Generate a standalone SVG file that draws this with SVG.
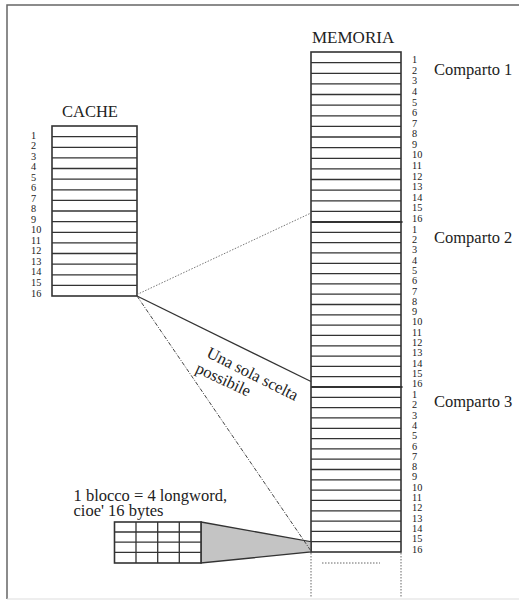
<svg xmlns="http://www.w3.org/2000/svg" width="520" height="602" viewBox="0 0 520 602">
<style>
text{font-family:"Liberation Serif","Times New Roman",serif;fill:#222}
.num{font-size:10.3px}
.lbl{font-size:16.5px}
.box{fill:#fff;stroke:#333;stroke-width:1.6}
.row{stroke:#333;stroke-width:1.3}
.sep{stroke:#333;stroke-width:2}
.frame{stroke:#666;stroke-width:1.5;fill:none}
</style>
<rect width="520" height="602" fill="#fff"/>
<g id="frame">
<path class="frame" d="M7,599 V5 H519"/>
<path d="M7,599 H519" stroke="#ddd" stroke-width="1"/>
</g>
<g id="cache">
<text class="lbl" x="62" y="117">CACHE</text>
<rect class="box" x="52" y="126" width="85" height="170"/>
<g class="row">
<line x1="52" y1="136.6" x2="137" y2="136.6"/><line x1="52" y1="147.3" x2="137" y2="147.3"/><line x1="52" y1="157.9" x2="137" y2="157.9"/><line x1="52" y1="168.5" x2="137" y2="168.5"/><line x1="52" y1="179.1" x2="137" y2="179.1"/><line x1="52" y1="189.8" x2="137" y2="189.8"/><line x1="52" y1="200.4" x2="137" y2="200.4"/><line x1="52" y1="211" x2="137" y2="211"/><line x1="52" y1="221.6" x2="137" y2="221.6"/><line x1="52" y1="232.3" x2="137" y2="232.3"/><line x1="52" y1="242.9" x2="137" y2="242.9"/><line x1="52" y1="253.5" x2="137" y2="253.5"/><line x1="52" y1="264.1" x2="137" y2="264.1"/><line x1="52" y1="274.8" x2="137" y2="274.8"/><line x1="52" y1="285.4" x2="137" y2="285.4"/>
</g>
<g class="num">
<text x="31" y="138.5">1</text><text x="31" y="149">2</text><text x="31" y="159.6">3</text><text x="31" y="170.1">4</text><text x="31" y="180.6">5</text><text x="31" y="191.2">6</text><text x="31" y="201.7">7</text><text x="31" y="212.2">8</text><text x="31" y="222.7">9</text><text x="31" y="233.3">10</text><text x="31" y="243.8">11</text><text x="31" y="254.3">12</text><text x="31" y="264.9">13</text><text x="31" y="275.4">14</text><text x="31" y="285.9">15</text><text x="31" y="296.5">16</text>
</g>
</g>
<g id="memoria">
<text class="lbl" x="312" y="43" style="font-size:17px">MEMORIA</text>
<rect class="box" x="311" y="52" width="90" height="500"/>
<g class="row">
<line x1="311" y1="62.6" x2="401" y2="62.6"/><line x1="311" y1="73.3" x2="401" y2="73.3"/><line x1="311" y1="83.9" x2="401" y2="83.9"/><line x1="311" y1="94.5" x2="401" y2="94.5"/><line x1="311" y1="105.1" x2="401" y2="105.1"/><line x1="311" y1="115.8" x2="401" y2="115.8"/><line x1="311" y1="126.4" x2="401" y2="126.4"/><line x1="311" y1="137" x2="401" y2="137"/><line x1="311" y1="147.6" x2="401" y2="147.6"/><line x1="311" y1="158.3" x2="401" y2="158.3"/><line x1="311" y1="168.9" x2="401" y2="168.9"/><line x1="311" y1="179.5" x2="401" y2="179.5"/><line x1="311" y1="190.1" x2="401" y2="190.1"/><line x1="311" y1="200.8" x2="401" y2="200.8"/><line x1="311" y1="211.4" x2="401" y2="211.4"/>
<line x1="311" y1="232.3" x2="401" y2="232.3"/><line x1="311" y1="242.6" x2="401" y2="242.6"/><line x1="311" y1="252.9" x2="401" y2="252.9"/><line x1="311" y1="263.3" x2="401" y2="263.3"/><line x1="311" y1="273.6" x2="401" y2="273.6"/><line x1="311" y1="283.9" x2="401" y2="283.9"/><line x1="311" y1="294.2" x2="401" y2="294.2"/><line x1="311" y1="304.5" x2="401" y2="304.5"/><line x1="311" y1="314.8" x2="401" y2="314.8"/><line x1="311" y1="325.1" x2="401" y2="325.1"/><line x1="311" y1="335.4" x2="401" y2="335.4"/><line x1="311" y1="345.8" x2="401" y2="345.8"/><line x1="311" y1="356.1" x2="401" y2="356.1"/><line x1="311" y1="366.4" x2="401" y2="366.4"/><line x1="311" y1="376.7" x2="401" y2="376.7"/>
<line x1="311" y1="397.3" x2="401" y2="397.3"/><line x1="311" y1="407.6" x2="401" y2="407.6"/><line x1="311" y1="417.9" x2="401" y2="417.9"/><line x1="311" y1="428.3" x2="401" y2="428.3"/><line x1="311" y1="438.6" x2="401" y2="438.6"/><line x1="311" y1="448.9" x2="401" y2="448.9"/><line x1="311" y1="459.2" x2="401" y2="459.2"/><line x1="311" y1="469.5" x2="401" y2="469.5"/><line x1="311" y1="479.8" x2="401" y2="479.8"/><line x1="311" y1="490.1" x2="401" y2="490.1"/><line x1="311" y1="500.4" x2="401" y2="500.4"/><line x1="311" y1="510.8" x2="401" y2="510.8"/><line x1="311" y1="521.1" x2="401" y2="521.1"/><line x1="311" y1="531.4" x2="401" y2="531.4"/><line x1="311" y1="541.7" x2="401" y2="541.7"/>
</g>
<line class="sep" x1="311" y1="222" x2="402.5" y2="222"/>
<line class="sep" x1="311" y1="387" x2="402.5" y2="387"/>
<g class="num">
<text x="412" y="63.3">1</text><text x="412" y="73.9">2</text><text x="412" y="84.4">3</text><text x="412" y="95">4</text><text x="412" y="105.5">5</text><text x="412" y="116.1">6</text><text x="412" y="126.7">7</text><text x="412" y="137.2">8</text><text x="412" y="147.8">9</text><text x="412" y="158.3">10</text><text x="412" y="168.9">11</text><text x="412" y="179.5">12</text><text x="412" y="190">13</text><text x="412" y="200.6">14</text><text x="412" y="211.1">15</text><text x="412" y="221.7">16</text>
<text x="412" y="232.7">1</text><text x="412" y="243">2</text><text x="412" y="253.3">3</text><text x="412" y="263.6">4</text><text x="412" y="273.9">5</text><text x="412" y="284.2">6</text><text x="412" y="294.5">7</text><text x="412" y="304.8">8</text><text x="412" y="315.1">9</text><text x="412" y="325.4">10</text><text x="412" y="335.7">11</text><text x="412" y="346">12</text><text x="412" y="356.3">13</text><text x="412" y="366.6">14</text><text x="412" y="376.9">15</text><text x="412" y="387.3">16</text>
<text x="412" y="398">1</text><text x="412" y="408.3">2</text><text x="412" y="418.6">3</text><text x="412" y="428.9">4</text><text x="412" y="439.2">5</text><text x="412" y="449.5">6</text><text x="412" y="459.8">7</text><text x="412" y="470.1">8</text><text x="412" y="480.4">9</text><text x="412" y="490.7">10</text><text x="412" y="501">11</text><text x="412" y="511.3">12</text><text x="412" y="521.6">13</text><text x="412" y="531.9">14</text><text x="412" y="542.2">15</text><text x="412" y="552.5">16</text>
</g>
<g fill="none" stroke="#666" stroke-width="1" stroke-dasharray="1.5 1.5">
<line x1="311" y1="553" x2="311" y2="597"/>
<line x1="401" y1="553" x2="401" y2="597"/>
<line x1="322" y1="563" x2="380" y2="563"/>
</g>
</g>
<g id="comparti" class="lbl">
<text x="434" y="75">Comparto 1</text>
<text x="434" y="243.3">Comparto 2</text>
<text x="434" y="407.3">Comparto 3</text>
</g>
<g id="blocco">
<text class="lbl" x="73.5" y="501">1 blocco = 4 longword,</text>
<text class="lbl" x="73.5" y="516">cioe' 16 bytes</text>
<polygon points="201,522 311,541.7 311,552 201,563" fill="#c4c4c4" stroke="#333" stroke-width="1.3"/>
<rect class="box" x="114.5" y="522" width="86.5" height="41"/>
<g class="row">
<line x1="114.5" y1="532" x2="201" y2="532"/><line x1="114.5" y1="542.2" x2="201" y2="542.2"/><line x1="114.5" y1="552.4" x2="201" y2="552.4"/>
<line x1="136" y1="522" x2="136" y2="563"/><line x1="157.7" y1="522" x2="157.7" y2="563"/><line x1="179.3" y1="522" x2="179.3" y2="563"/>
</g>
</g>
<g id="connectors" fill="none">
<line x1="137" y1="294.5" x2="311" y2="213" stroke="#777" stroke-width="1" stroke-dasharray="1.5 1.5"/>
<line x1="137" y1="296" x2="311" y2="381.5" stroke="#333" stroke-width="1.3"/>
<line x1="137" y1="296" x2="311" y2="551" stroke="#444" stroke-width="1" stroke-dasharray="4 1.5 1 1.5"/>
</g>
<g id="label-scelta" class="lbl">
<text transform="translate(205.5,356.5) rotate(26.5)">Una sola scelta</text>
<text transform="translate(194.5,372) rotate(25)">possibile</text>
</g>
</svg>
